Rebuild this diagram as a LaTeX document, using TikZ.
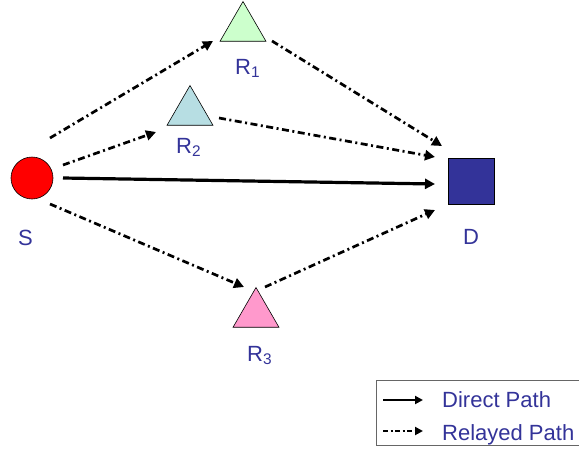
\documentclass[tikz,border=0pt]{standalone}
\usepackage{fontspec}
\setmainfont{Liberation Sans}
\usetikzlibrary{arrows.meta,shapes.geometric}
\definecolor{labelblue}{HTML}{333399}
\definecolor{rgreen}{HTML}{CCFFCC}
\definecolor{rblue}{HTML}{B7DEE3}
\definecolor{rpink}{HTML}{FF99CC}
\begin{document}
\begin{tikzpicture}[x=1pt,y=-1pt,
    relay/.style={line width=2.7pt, dash pattern=on 7pt off 3.5pt on 2pt off 3.5pt,
      -{Triangle[length=10pt,width=10pt]}},
    direct/.style={line width=3.2pt, -{Triangle[length=10pt,width=10pt]}},
    relaynode/.style={draw=black, line width=0.6pt, regular polygon,
      regular polygon sides=3, minimum size=53pt, inner sep=0pt},
    tag/.style={text=labelblue, font=\fontsize{22}{24}\selectfont,
      anchor=base west, inner sep=0pt}]
    \useasboundingbox (0,0) rectangle (579,448);
    % Source, relays and destination
    \node[circle, draw=black, line width=0.6pt, fill=red, minimum size=42pt, inner sep=0pt] (S) at (32,178) {};
    \node[relaynode, fill=rgreen] (R1) at (243,28) {};
    \node[relaynode, fill=rblue] (R2) at (190,112) {};
    \node[relaynode, fill=rpink] (R3) at (256,314) {};
    \node[draw=black, line width=0.6pt, fill=labelblue, minimum size=46pt, inner sep=0pt] (D) at (471,181) {};
    % Labels
    \node[tag] (lS) at (18,245) {S};
    \node[tag] (lD) at (463,244) {D};
    \node[tag] (lR1) at (235,74) {R\textsubscript{1}};
    \node[tag] (lR2) at (176,153) {R\textsubscript{2}};
    \node[tag] (lR3) at (247,361) {R\textsubscript{3}};
    % Arrow ends
    \coordinate (s1) at (50,138);  \coordinate (r1in) at (213,41);
    \coordinate (r1out) at (272,41); \coordinate (d1) at (442,146);
    \coordinate (s2) at (63,165);  \coordinate (r2in) at (156,132);
    \coordinate (r2out) at (219,118); \coordinate (d2) at (435,157);
    \coordinate (s0) at (63,178);  \coordinate (d0) at (435,184);
    \coordinate (s3) at (50,204);  \coordinate (r3in) at (244,287);
    \coordinate (r3out) at (265,287); \coordinate (d3) at (435,210);
    % Paths
    \draw[relay] (s1) -- (r1in);
    \draw[relay] (r1out) -- (d1);
    \draw[relay] (s2) -- (r2in);
    \draw[relay] (r2out) -- (d2);
    \draw[direct] (s0) -- (d0);
    \draw[relay] (s3) -- (r3in);
    \draw[relay] (r3out) -- (d3);
    % Legend
    \draw[draw=black!60, line width=0.8pt] (376,380) rectangle (590,445);
    \coordinate (k1a) at (383,400); \coordinate (k1b) at (423,400);
    \coordinate (k2a) at (383,431); \coordinate (k2b) at (423,431);
    \draw[line width=2.8pt, -{Triangle[length=8pt,width=8pt]}] (k1a) -- (k1b);
    \draw[line width=2.4pt, dash pattern=on 5pt off 2.5pt on 2pt off 2.5pt,
      -{Triangle[length=8pt,width=8pt]}] (k2a) -- (k2b);
    \node[tag] (kDirect) at (442,407) {Direct Path};
    \node[tag] (kRelay) at (442,440) {Relayed Path};
\end{tikzpicture}
\end{document}
